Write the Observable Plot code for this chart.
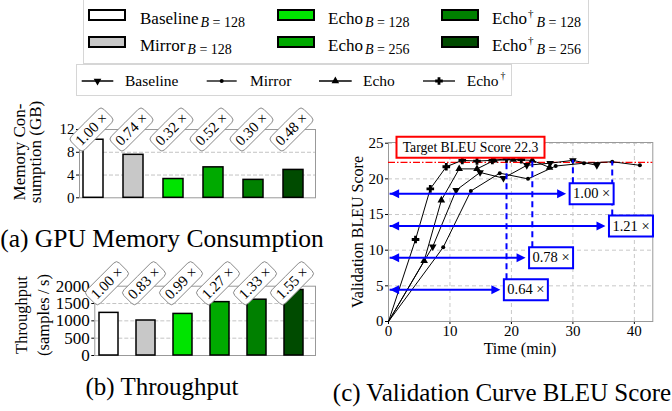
<!DOCTYPE html>
<html>
<head>
<meta charset="utf-8">
<script src="https://cdn.jsdelivr.net/npm/d3@7"></script>
<script src="https://cdn.jsdelivr.net/npm/@observablehq/plot@0.6"></script>
<style>
html,body{margin:0;padding:0;background:#fff;}
#root{position:relative;width:672px;height:411px;overflow:hidden;background:#fff;}
#root > svg{position:absolute;}
</style>
</head>
<body>
<div id="root"></div>
<script>
// ================= DATA =================
const barNames = ["Baseline","Mirror","Echo","Echo","Echo\u2020","Echo\u2020"];
const barBatch = [128,128,128,256,128,256];
const memoryGB = [10.2,7.55,3.3,5.35,3.15,4.9];
const memoryRatio = ["1.00","0.74","0.32","0.52","0.30","0.48"];
const throughput = [1230,1010,1200,1540,1610,1890];
const throughputRatio = ["1.00","0.83","0.99","1.27","1.33","1.55"];
const memoryTicks = [0,4,8,12];
const throughputTicks = [0,500,1000,1500,2000];

const baselineT = [0,7.2,11.0,14.9,18.7,22.5,26.3,30.0,33.9];
const baselineS = [0,10.5,18.4,20.9,20.1,21.9,22.2,22.6,21.9];
const mirrorT = [0,8.9,13.4,18.1,22.7,27.2,31.8,36.4,40.9];
const mirrorS = [0,10.4,18.3,20.8,20.0,21.8,22.2,22.4,21.9];
const echoT = [0,5.8,8.6,11.5,14.4,17.2,20.3,23.4,26.2];
const echoS = [0,8.5,17.0,21.4,21.4,22.6,22.7,22.6,21.6];
const echoDT = [0,4.4,6.8,9.4,12.0,14.4,16.9,19.2,21.6];
const echoDS = [0,11.5,18.6,21.7,22.6,22.5,22.6,22.8,22.7];
const targetBLEU = 22.3;
const speedupLabel = ["0.64","0.78","1.00","1.21"];
const speedupTime = [19.2,23.4,30.0,36.4];
const speedupReach = [22.8,22.6,22.6,22.4];
const arrowY = [4.44,8.93,17.9,13.4];
const arrowEnd = [18.2,22.3,28.9,35.3];
const arrowStart = 0.26;
const timeTicks = [0,10,20,30,40];
const bleuTicks = [0,5,10,15,20,25];

// ================= STYLE / HELPERS =================
const serif = '"Liberation Serif","Times New Roman",Times,serif';
const palette = ["#ffffff","#c8c8c8","#00e400","#00aa00","#008000","#004b00"];
const root = document.getElementById("root");
const cats = barNames.map((n,i)=>n+" B="+barBatch[i]);

function polySym(pts){return {draw(ctx){ctx.moveTo(pts[0][0],pts[0][1]);for(let i=1;i<pts.length;i++)ctx.lineTo(pts[i][0],pts[i][1]);ctx.closePath();}};}
const triUp = polySym([[0,-4.4],[3.8,2.2],[-3.8,2.2]]);
const triDown = polySym([[0,4.4],[3.8,-2.2],[-3.8,-2.2]]);
function crossSym(a,t){return polySym([[-t,-a],[t,-a],[t,-t],[a,-t],[a,t],[t,t],[t,a],[-t,a],[-t,t],[-a,t],[-a,-t],[-t,-t]]);}
const plusSym = crossSym(3.8,1.4);
const headRight = polySym([[0,0],[-9,-4.5],[-9,4.5]]);
const headLeft = polySym([[0,0],[9,-4.5],[9,4.5]]);
function rectSym(w,h){return polySym([[-w/2,-h/2],[w/2,-h/2],[w/2,h/2],[-w/2,h/2]]);}
function rotBox(L,H,rr,deg){
  const t=deg*Math.PI/180,c=Math.cos(t),s=Math.sin(t);
  const pts=[[-L/2,-H/2],[L/2,-H/2],[L/2,H/2],[-L/2,H/2]].map(([x,y])=>[x*c-y*s,x*s+y*c]);
  return {draw(ctx){
    ctx.moveTo((pts[0][0]+pts[1][0])/2,(pts[0][1]+pts[1][1])/2);
    for(let i=1;i<=4;i++){const p=pts[i%4],q=pts[(i+1)%4];ctx.arcTo(p[0],p[1],q[0],q[1],rr);}
    ctx.closePath();
  }};
}
function bandRange(c0,step,pi,po,n){const a=c0-step*(po+(1-pi)/2);return [a,a+step*(n-pi+2*po)];}
function put(svg,left,top){svg.style.left=left+"px";svg.style.top=top+"px";root.appendChild(svg);}
const labelBox = rotBox(46,19,4,-45);

// ================= (a) MEMORY =================
const memData = cats.map((c,i)=>({cat:c,v:memoryGB[i],r:memoryRatio[i]}));
const memTop = d3.max(memoryTicks);
put(Plot.plot({
  width:330,height:115,marginLeft:79,marginRight:15,marginTop:34,marginBottom:12.7,
  style:{fontFamily:serif,fontSize:"15px",background:"transparent",color:"black",overflow:"visible"},
  x:{type:"band",domain:cats,range:bandRange(91.7,40.56,0.495,0.25,6),paddingInner:0.495,paddingOuter:0.25,align:0.5,axis:null},
  y:{domain:[0,memTop],ticks:memoryTicks,tickSize:3,tickPadding:2,label:null,tickFormat:d3.format("d")},
  color:{domain:cats,range:palette},
  marks:[
    Plot.ruleY(memoryTicks.filter(d=>d>0&&d<memTop),{stroke:"#c4c4c4",strokeDasharray:"4,2"}),
    Plot.frame({stroke:"#999"}),
    Plot.barY(memData,{x:"cat",y:"v",fill:"cat",stroke:"black",strokeWidth:1.5}),
    Plot.dot(memData,{x:"cat",y:memTop,symbol:labelBox,fill:"white",stroke:"#888",strokeWidth:1,dx:-2}),
    Plot.text(memData,{x:"cat",y:memTop,text:d=>d.r+" \u00d7",rotate:()=>-45,dx:-2,fontSize:15,fontFamily:serif,fill:"black"})
  ]
}),0,95);

// ================= (b) THROUGHPUT =================
const thrData = cats.map((c,i)=>({cat:c,v:throughput[i],r:throughputRatio[i]}));
const thrTop = d3.max(throughputTicks);
put(Plot.plot({
  width:330,height:120,marginLeft:94.3,marginRight:15,marginTop:35.7,marginBottom:15,
  style:{fontFamily:serif,fontSize:"17px",background:"transparent",color:"black",overflow:"visible"},
  x:{type:"band",domain:cats,range:bandRange(107.5,37.66,0.477,0.25,6),paddingInner:0.477,paddingOuter:0.25,align:0.5,axis:null},
  y:{domain:[0,thrTop],ticks:throughputTicks,tickSize:3,tickPadding:2,label:null,tickFormat:d3.format("d")},
  color:{domain:cats,range:palette},
  marks:[
    Plot.ruleY(throughputTicks.filter(d=>d>0&&d<thrTop),{stroke:"#c4c4c4",strokeDasharray:"4,2"}),
    Plot.frame({stroke:"#999"}),
    Plot.barY(thrData,{x:"cat",y:"v",fill:"cat",stroke:"black",strokeWidth:1.5}),
    Plot.dot(thrData,{x:"cat",y:thrTop,symbol:labelBox,fill:"white",stroke:"#888",strokeWidth:1,dx:-2,dy:-3}),
    Plot.text(thrData,{x:"cat",y:thrTop,text:d=>d.r+" \u00d7",rotate:()=>-45,dx:-2,dy:-3,fontSize:15,fontFamily:serif,fill:"black"})
  ]
}),0,250);

// ================= (c) BLEU =================
const seriesDefs = [
  {name:"Baseline",t:baselineT,s:baselineS,sym:triDown,r:4.5},
  {name:"Mirror",t:mirrorT,s:mirrorS,sym:"circle",r:2},
  {name:"Echo",t:echoT,s:echoS,sym:triUp,r:4.5},
  {name:"Echo\u2020",t:echoDT,s:echoDS,sym:plusSym,r:4.5}
];
const ann = speedupLabel.map((l,i)=>({label:l+" \u00d7",t:speedupTime[i],reach:speedupReach[i],y:arrowY[i],end:arrowEnd[i]}));
const bleuMarks = [
  Plot.ruleX(timeTicks.filter(d=>d>0),{stroke:"#c8c8c8",strokeDasharray:"4,3"}),
  Plot.ruleY(bleuTicks.filter(d=>d>0),{stroke:"#c8c8c8",strokeDasharray:"4,3"}),
  Plot.frame({stroke:"#999"}),
  Plot.ruleY([targetBLEU],{stroke:"#ff0000",strokeWidth:1.2,strokeDasharray:"7,2,1.5,2"})
];
for(const sd of seriesDefs){
  const rows = sd.t.map((t,i)=>({t,s:sd.s[i]}));
  bleuMarks.push(Plot.line(rows,{x:"t",y:"s",stroke:"black",strokeWidth:1}));
  bleuMarks.push(Plot.dot(rows.slice(1),{x:"t",y:"s",symbol:sd.sym,r:sd.r,fill:"black",stroke:"none"}));
}
bleuMarks.push(
  Plot.ruleX(ann,{x:"t",y1:"y",y2:"reach",stroke:"#0000ff",strokeWidth:2,strokeDasharray:"6,4"}),
  Plot.ruleY(ann,{y:"y",x1:arrowStart,x2:d=>d.end-0.6,stroke:"#0000ff",strokeWidth:2}),
  Plot.dot(ann,{x:"end",y:"y",symbol:headRight,fill:"#0000ff",stroke:"none"}),
  Plot.dot(ann,{x:arrowStart,y:"y",symbol:headLeft,fill:"#0000ff",stroke:"none"}),
  Plot.dot(ann,{x:"end",y:"y",dx:25.5,symbol:rectSym(44,21),fill:"white",stroke:"#0000ff",strokeWidth:2}),
  Plot.text(ann,{x:"end",y:"y",dx:25.5,text:"label",fontSize:14.5,fontFamily:serif,fill:"black"}),
  Plot.dot([targetBLEU],{x:0,y:d=>d,dx:82,dy:-15.3,symbol:rectSym(148,21),fill:"white",stroke:"#ff0000",strokeWidth:2}),
  Plot.text([targetBLEU],{x:0,y:d=>d,dx:82,dy:-15.3,text:d=>"Target BLEU Score "+d,fontSize:13.7,fontFamily:serif,fill:"black"})
);
put(Plot.plot({
  width:342,height:275,marginLeft:58,marginRight:19.7,marginTop:47,marginBottom:49,
  style:{fontFamily:serif,fontSize:"15px",background:"transparent",color:"black",overflow:"visible"},
  x:{domain:[0,43],ticks:timeTicks,tickSize:3,tickPadding:1,label:null},
  y:{domain:[0,25.1],ticks:bleuTicks,tickSize:3,tickPadding:2,label:null},
  marks:bleuMarks
}),330,95);

// ================= OVERLAY: legends, titles, captions =================
const ov = d3.create("svg").attr("width",672).attr("height",411).attr("font-family",serif)
  .style("left","0px").style("top","0px").style("pointer-events","none");
root.appendChild(ov.node());
function symPath(sym){const p=d3.path();sym.draw(p);return p.toString();}

// legend 1 (bars)
ov.append("rect").attr("x",83.5).attr("y",-5).attr("width",505).attr("height",68.5).attr("fill","white").attr("stroke","#d6d6d6");
const cols=[[89,140],[278,328],[442,492]];
cats.forEach((c,i)=>{
  const [sx,tx]=cols[Math.floor(i/2)]; const cy = i%2 ? 42 : 15;
  ov.append("rect").attr("x",sx).attr("y",cy-5).attr("width",36).attr("height",10).attr("fill",palette[i]).attr("stroke","black").attr("stroke-width",2);
  const t=ov.append("text").attr("x",tx).attr("y",cy+9).attr("font-size",17).attr("fill","black");
  const nm=barNames[i]; const dag=nm.endsWith("\u2020");
  t.append("tspan").text(dag?nm.slice(0,-1):nm);
  if(dag) t.append("tspan").attr("font-size",11).attr("dy",-7).attr("dx",1).text("\u2020");
  t.append("tspan").attr("font-size",14).attr("dy",dag?10:3).attr("dx",dag?3:2).attr("font-style","italic").text("B");
  t.append("tspan").attr("font-size",14).text(" = "+barBatch[i]);
});

// legend 2 (curves)
ov.append("rect").attr("x",76.5).attr("y",64.5).attr("width",435).attr("height",31).attr("fill","white").attr("stroke","#d6d6d6");
const lg2=[[81.7,113.3,125],[206.7,236.7,250],[319,351.7,363],[423,455,466.7]];
seriesDefs.forEach((sd,i)=>{
  const [a,b,tx]=lg2[i], cy=81, cx=(a+b)/2;
  ov.append("line").attr("x1",a).attr("x2",b).attr("y1",cy).attr("y2",cy).attr("stroke","black").attr("stroke-width",1.3);
  if(sd.sym==="circle") ov.append("circle").attr("cx",cx).attr("cy",cy).attr("r",2).attr("fill","black");
  else ov.append("path").attr("d",symPath(sd.sym)).attr("transform",`translate(${cx},${cy})`).attr("fill","black");
  const t=ov.append("text").attr("x",tx).attr("y",86).attr("font-size",15.5).attr("fill","black");
  const dag=sd.name.endsWith("\u2020");
  t.append("tspan").text(dag?sd.name.slice(0,-1):sd.name);
  if(dag) t.append("tspan").attr("font-size",10).attr("dy",-7).attr("dx",2).text("\u2020");
});

// axis titles
function vtext(x,y,str,size){ov.append("text").attr("transform",`translate(${x},${y}) rotate(-90)`).attr("text-anchor","middle").attr("font-size",size).attr("fill","black").text(str);}
vtext(25,152,"Memory Con-",17);
vtext(41,152,"sumption (GB)",17);
vtext(27,315,"Throughput",16.5);
vtext(49,315,"(samples\u2009/\u2009s)",16.5);
vtext(363,232,"Validation BLEU Score",16);
ov.append("text").attr("x",520).attr("y",353.5).attr("text-anchor","middle").attr("font-size",16).attr("fill","black").text("Time (min)");

// captions
function cap(x,y,str,size){ov.append("text").attr("x",x).attr("y",y).attr("text-anchor","middle").attr("font-size",size).attr("fill","black").text(str);}
cap(162,247,"(a) GPU Memory Consumption",25.5);
cap(162,395,"(b) Throughput",25);
cap(502,401,"(c) Validation Curve BLEU Score",25);
</script>
</body>
</html>
